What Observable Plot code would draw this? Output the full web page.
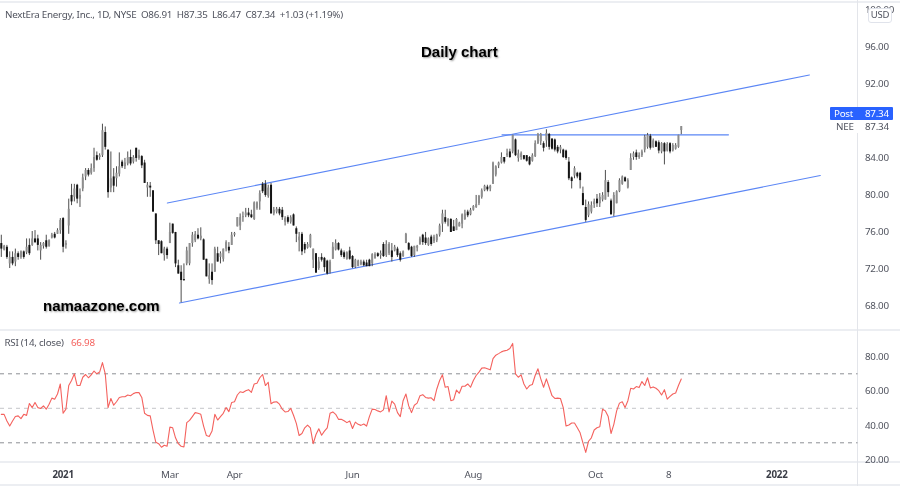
<!DOCTYPE html>
<html><head><meta charset="utf-8">
<script src="https://cdn.jsdelivr.net/npm/d3@7"></script>
<script src="https://cdn.jsdelivr.net/npm/@observablehq/plot@0.6"></script>
<style>
html,body{margin:0;padding:0;background:#fff;width:900px;height:486px;overflow:hidden}
#wrap{position:relative;width:900px;height:486px;font-family:"Noto Sans",sans-serif;color:#50535e;filter:blur(0.35px);letter-spacing:-0.25px}
#wrap svg{display:block;position:absolute;left:0}
.t{position:absolute;white-space:pre;line-height:1}
.sep{position:absolute;background:#eceef2}
</style></head><body>
<div id="wrap"></div>
<script>
const opens=[74.7,74.0,74.3,72.5,73.2,72.7,73.6,73.2,73.8,73.7,
74.5,74.5,75.2,75.2,73.9,74.4,75.0,74.4,75.3,75.7,
75.7,76.1,77.4,74.5,76.6,79.9,79.7,81.0,79.5,80.6,
81.9,82.6,82.3,82.8,84.2,84.0,84.2,86.7,84.8,80.7,
81.9,81.7,82.2,83.5,83.0,83.3,84.0,83.5,85.0,83.9,
84.1,83.4,80.7,80.9,80.4,77.9,75.0,74.9,73.4,74.1,
74.7,76.8,75.9,72.3,71.6,70.8,72.5,72.5,74.7,75.0,
75.6,75.2,75.1,73.0,70.8,71.6,71.6,73.6,73.2,73.0,
74.1,74.3,74.5,75.6,76.5,76.6,77.5,77.7,78.0,77.8,
77.3,78.5,79.2,81.1,81.1,79.8,81.0,77.9,78.1,78.4,
78.3,77.0,77.5,77.0,77.8,76.3,75.0,75.7,74.6,74.2,
74.3,72.9,73.6,72.0,73.2,73.1,72.8,71.6,73.0,74.0,
74.7,73.9,73.7,73.0,73.9,73.3,72.1,72.2,72.4,72.7,
72.6,72.9,72.5,73.1,73.6,73.4,74.6,73.4,73.6,73.9,
73.9,74.1,73.6,73.3,74.7,74.7,74.3,73.4,74.2,74.6,
75.6,75.3,74.5,75.4,74.9,75.0,75.6,76.8,77.5,76.6,
77.3,76.5,76.1,76.5,76.8,77.3,78.1,77.8,78.3,78.6,
79.0,79.7,80.4,80.8,80.6,81.1,82.1,83.1,83.4,84.0,
84.2,84.6,84.6,85.9,83.9,84.0,84.2,84.2,84.0,83.6,
84.1,85.5,85.7,85.5,85.8,86.5,86.0,85.9,85.1,84.8,
84.8,84.7,83.5,81.8,82.0,82.3,82.3,80.1,78.6,77.7,
78.1,78.9,79.5,79.0,79.4,79.4,81.3,79.3,77.9,79.0,
80.3,81.1,81.8,80.7,82.6,84.0,84.5,84.0,84.2,84.8,
85.1,86.3,85.1,85.7,85.6,84.6,85.5,84.7,85.5,84.7,
84.9,85.1,86.91];
const highs=[75.6,74.5,74.5,73.8,73.8,74.1,73.8,73.9,73.9,75.2,
75.2,76.0,76.1,75.6,74.8,74.8,75.6,75.1,75.8,75.9,
76.3,77.4,77.5,75.0,79.5,81.1,81.1,81.1,80.6,82.2,
82.8,82.8,83.3,85.0,84.6,84.4,87.6,87.3,84.8,84.6,
82.8,83.0,84.5,83.7,83.9,84.6,84.8,84.2,85.0,84.8,
84.2,83.7,81.3,81.3,80.4,77.9,75.0,75.0,74.3,74.3,
76.9,76.8,75.9,72.9,72.3,72.5,74.3,74.7,75.9,76.0,
76.3,76.4,75.2,73.0,72.5,72.5,74.3,74.3,73.8,74.1,
75.0,74.8,75.9,75.9,77.5,77.9,78.1,78.5,78.5,78.3,
79.2,79.2,80.4,81.3,81.5,81.0,81.2,78.6,78.6,78.6,
78.6,77.6,77.7,77.7,77.9,76.5,75.9,75.9,74.8,74.8,
75.7,74.1,73.6,73.2,73.6,73.2,72.9,72.9,74.8,75.1,
74.8,74.1,73.9,73.8,74.3,73.4,73.0,72.9,72.9,72.9,
72.9,73.0,73.6,73.7,73.7,73.9,74.8,75.0,74.8,74.7,
74.5,74.3,73.8,73.9,75.8,74.8,74.4,74.4,74.5,75.4,
75.7,75.9,75.3,75.6,75.6,75.7,76.8,78.3,78.3,77.4,
77.4,77.2,77.4,77.0,77.9,78.3,78.3,78.5,78.8,79.9,
79.9,80.6,81.0,81.0,81.0,83.5,83.1,83.5,84.5,84.0,
84.9,84.9,86.4,86.0,84.8,84.6,84.2,84.2,84.1,84.4,
85.8,86.6,86.6,85.7,87.0,86.6,86.0,86.0,85.3,85.3,
84.9,84.8,84.0,81.9,83.0,82.4,82.4,80.8,79.4,79.2,
79.2,79.5,80.0,80.1,80.2,82.6,81.5,79.5,80.2,80.4,
81.7,82.0,81.9,81.7,84.4,84.6,84.8,84.5,84.8,86.4,
86.6,86.5,86.0,85.8,85.8,85.6,85.6,85.6,85.6,85.5,
85.5,86.4,87.35];
const lows=[73.2,73.9,73.0,72.0,72.3,72.2,72.9,73.0,73.0,73.5,
73.4,74.4,74.7,73.9,72.9,74.1,74.1,74.3,75.2,75.2,
75.7,75.7,73.7,74.1,75.7,78.8,79.2,79.0,78.6,80.3,
81.5,81.9,82.1,82.4,83.6,83.7,84.0,84.8,79.6,80.2,
80.2,80.8,81.9,82.8,82.7,83.1,83.1,83.3,83.5,83.7,
82.8,81.2,79.7,79.7,78.1,74.6,73.4,73.6,72.8,73.0,
74.7,75.7,72.1,71.4,68.3,70.6,72.3,72.3,74.3,74.8,
75.1,75.0,72.9,71.1,70.3,70.2,71.6,72.7,72.5,72.7,
73.8,73.6,74.5,75.4,76.5,76.1,77.0,77.5,77.5,77.4,
77.2,78.3,78.3,80.1,79.7,79.6,77.9,77.7,77.9,77.7,
77.2,76.6,76.8,76.8,76.6,74.8,73.8,73.4,73.6,74.1,
74.2,72.0,71.5,71.8,72.7,71.6,71.3,71.4,73.0,73.9,
73.9,73.2,73.0,72.9,72.9,72.0,72.0,72.2,72.3,72.2,
72.2,72.2,72.2,73.0,73.2,73.0,73.2,73.2,73.4,72.7,
73.8,73.2,72.7,73.2,74.7,73.9,73.2,73.2,73.8,74.5,
74.5,74.5,74.4,74.4,74.7,74.8,75.4,75.9,76.8,76.5,
75.9,76.0,76.1,76.5,76.3,77.2,77.5,77.7,78.2,78.5,
78.8,79.5,80.3,80.3,80.3,81.1,81.9,82.8,83.3,83.3,
84.0,83.9,84.4,84.1,83.5,83.7,83.7,83.5,83.1,83.5,
84.0,85.4,85.3,84.6,85.1,84.8,84.8,84.6,84.4,84.4,
83.9,83.7,81.5,80.6,81.7,81.7,80.6,78.8,77.0,77.5,
77.9,78.5,78.6,78.6,79.2,79.4,79.7,77.8,77.6,79.0,
80.2,81.0,81.3,80.6,82.6,83.7,83.7,83.8,84.0,84.5,
84.9,84.8,85.0,85.1,84.4,84.4,83.2,84.6,84.4,84.6,
84.8,85.0,86.47];
const closes=[74.1,74.4,73.2,73.2,72.5,73.6,73.2,73.8,73.2,74.3,
73.6,75.2,74.8,74.5,74.5,74.7,74.3,75.0,75.6,75.3,
76.1,77.2,74.3,74.7,78.4,79.2,80.6,79.5,79.9,81.8,
82.6,82.1,82.8,84.0,83.7,84.2,86.9,85.1,80.2,81.7,
80.9,82.3,83.0,83.0,83.4,84.0,83.3,84.0,83.9,84.2,
83.1,81.2,81.0,80.7,78.1,75.0,74.6,73.6,74.1,73.4,
75.9,75.8,72.5,71.4,70.7,70.7,73.9,74.7,75.6,75.7,
75.2,75.5,72.9,71.1,71.2,70.7,74.1,72.7,73.6,74.1,
74.8,73.9,75.6,75.8,77.5,77.5,77.6,78.0,77.7,77.5,
79.1,79.1,80.1,80.3,79.9,80.7,77.9,78.3,78.4,77.9,
77.5,77.4,77.0,77.5,76.6,75.7,75.4,73.8,74.0,74.6,
75.6,74.1,71.5,72.7,72.9,72.1,71.4,72.7,74.3,74.7,
74.0,73.4,73.2,73.7,73.0,72.1,72.9,72.8,72.7,72.3,
72.2,72.2,73.5,73.5,73.3,73.6,73.3,74.6,74.6,73.2,
74.3,73.4,72.9,73.8,75.7,74.0,73.3,74.4,74.4,75.2,
74.8,74.7,75.2,74.6,75.4,75.6,76.6,77.9,77.0,77.3,
75.9,76.0,77.3,76.9,77.8,77.9,77.7,78.3,78.7,78.9,
79.8,80.4,80.9,80.5,80.9,83.4,83.0,83.4,84.0,83.5,
84.4,84.0,86.4,84.2,84.4,84.4,83.8,83.6,83.2,84.2,
85.5,86.5,86.5,85.0,86.6,85.1,84.9,84.8,84.6,85.1,
84.0,83.9,81.7,81.4,82.8,81.9,81.5,78.8,77.2,78.9,
78.8,79.2,79.0,79.7,79.9,81.5,80.2,77.8,79.9,80.3,
81.5,81.9,81.4,81.5,83.9,84.4,84.0,84.2,84.6,86.2,
86.4,85.0,85.8,85.1,84.7,85.5,84.6,85.4,84.6,85.3,
85.3,86.4,87.34];
const rsi=[46.5,46.5,42.6,39.7,42.6,45.2,45.6,44.0,46.5,45.9,
52.8,50.4,53.4,50.4,49.9,51.4,49.5,52.4,55.9,55.3,
58.3,64.1,47.1,49.5,63.2,66.1,70.0,63.2,63.2,68.0,
69.6,67.7,69.4,71.6,70.0,71.0,76.5,70.0,50.4,55.7,
51.8,53.8,56.3,56.7,56.7,57.7,57.3,58.5,59.1,59.1,
56.3,47.1,45.9,45.6,37.4,30.3,29.5,27.4,28.6,28.0,
39.1,38.7,32.9,29.5,28.0,27.6,41.7,43.0,45.2,47.5,
47.1,46.5,39.7,34.2,33.6,36.8,46.5,43.2,45.2,47.1,
50.4,48.1,53.4,53.8,57.7,59.6,59.2,60.2,60.8,59.2,
64.1,64.5,67.7,69.6,63.2,65.1,52.6,53.6,53.8,52.4,
49.5,47.9,48.1,50.0,46.0,41.3,34.2,35.4,38.7,40.3,
38.7,29.5,34.8,38.1,34.4,36.8,38.7,47.1,47.9,46.5,
43.6,43.6,42.8,41.7,42.6,38.3,42.0,40.7,40.1,40.9,
39.7,45.2,49.5,49.3,48.5,47.9,49.1,57.3,47.9,54.2,
52.4,47.5,45.2,54.4,58.3,51.4,47.5,51.8,53.0,57.3,
57.9,56.3,55.9,56.1,54.4,61.2,66.1,69.4,62.2,62.6,
54.4,55.0,60.6,58.7,62.8,62.8,64.1,62.2,66.1,69.0,
71.0,73.3,73.5,72.9,72.3,78.8,80.8,81.7,82.7,83.3,
83.7,84.7,87.6,70.0,68.0,69.4,64.1,61.2,63.2,63.8,
69.0,72.9,67.1,62.2,67.1,62.2,57.3,55.7,55.9,55.7,
50.4,39.7,40.3,41.5,41.5,38.7,35.8,29.9,24.4,30.9,
32.9,37.4,38.7,39.3,49.5,48.5,45.2,35.4,40.7,48.5,
53.0,53.8,50.4,54.4,61.6,61.2,62.6,62.0,65.5,63.2,
67.7,61.8,62.4,61.6,60.2,57.7,60.8,55.3,56.9,58.3,
58.9,63.2,66.98];
const priceTicks=[68,72,76,80,84,92,96,100];
const rsiTicks=[20,40,60,80];
const rsiBands=[70,30];
const rsiMid=[50];
const yearIdx=[22,276], yearLabels=["2021","2022"];
const monthIdx=[60,83,125,168,211.5,237.5], monthLabels=["Mar","Apr","Jun","Aug","Oct","8"];
// trend lines: [bar index, price]
const channelUpper=[[59.1,79.08],[287.6,92.92]];
const channelLower=[[63.4,68.27],[291.5,82.05]];
const resistance=[[178.2,86.45],[258.8,86.45]];

const bars=opens.map((o,i)=>({i,o,h:highs[i],l:lows[i],c:closes[i]}));
const up=bars.filter(d=>d.c>=d.o), down=bars.filter(d=>d.c<d.o);
const rsiPts=rsi.map((v,i)=>({i,v}));
const xDomain=[-0.285,304.9];
const font='"Noto Sans",sans-serif';
const axisColor="#50535e";
const lineBlue="#5b86f5";
const svgStyle={fontFamily:font,fontSize:"9.8px",letterSpacing:"-0.25px",color:axisColor,background:"transparent",overflow:"visible"};

const price=Plot.plot({
  width:900,height:329,marginLeft:0,marginRight:42.5,marginTop:0,marginBottom:0,
  style:svgStyle,
  x:{type:"linear",domain:xDomain,axis:null},
  y:{domain:[65.41,100.97]},
  marks:[
    Plot.line(channelUpper,{x:"0",y:"1",stroke:lineBlue,strokeWidth:1.1}),
    Plot.line(channelLower,{x:"0",y:"1",stroke:lineBlue,strokeWidth:1.1}),
    Plot.line(resistance,{x:"0",y:"1",stroke:lineBlue,strokeWidth:1.1}),
    Plot.ruleX(bars,{x:"i",y1:"l",y2:"h",stroke:"#3a3a3a",strokeWidth:0.9}),
    Plot.ruleX(up,{x:"i",y1:"o",y2:"c",stroke:"#8e8e8e",strokeWidth:2,strokeLinecap:"butt"}),
    Plot.ruleX(down,{x:"i",y1:"o",y2:"c",stroke:"#141414",strokeWidth:2,strokeLinecap:"butt"}),
    Plot.axisY({anchor:"right",ticks:priceTicks,tickFormat:d=>d.toFixed(2),tickSize:0,tickPadding:7,label:null})
  ]
});
const osc=Plot.plot({
  width:900,height:157,marginLeft:0,marginRight:42.5,marginTop:0,marginBottom:24,
  style:svgStyle,
  x:{type:"linear",domain:xDomain},
  y:{domain:[18.58,95.68]},
  marks:[
    Plot.ruleY(rsiBands,{stroke:"#808389",strokeDasharray:"4,4",strokeWidth:0.9}),
    Plot.ruleY(rsiMid,{stroke:"#bdbfc4",strokeDasharray:"4,4",strokeWidth:0.9}),
    Plot.line(rsiPts,{x:"i",y:"v",stroke:"#f4625e",strokeWidth:1.1}),
    Plot.axisY({anchor:"right",ticks:rsiTicks,tickFormat:d=>d.toFixed(2),tickSize:0,tickPadding:7,label:null}),
    Plot.axisX({anchor:"bottom",ticks:yearIdx,tickFormat:d=>yearLabels[yearIdx.indexOf(d)],tickSize:0,tickPadding:9,label:null,fontWeight:"bold",fill:"#3a3d46"}),
    Plot.axisX({anchor:"bottom",ticks:monthIdx,tickFormat:d=>monthLabels[monthIdx.indexOf(d)],tickSize:0,tickPadding:9,label:null})
  ]
});
const wrap=document.getElementById("wrap");
function sep(l,t,w,h,c){const e=document.createElement("div");e.className="sep";e.style.cssText=`left:${l}px;top:${t}px;width:${w}px;height:${h}px`+(c?`;background:${c}`:"");wrap.appendChild(e);return e;}
function txt(s,css){const e=document.createElement("div");e.className="t";e.textContent=s;e.style.cssText=css;wrap.appendChild(e);return e;}
sep(0,1,900,2);sep(0,329,900,2);sep(0,461,900,1.5);sep(0,483.5,900,2);
sep(857,0,1,486,"#e3e5ea");
price.style.top="0px";osc.style.top="329px";
wrap.append(price,osc);
// labels on the price scale
sep(832,120,61,13,"#fff");
sep(830,107,63,12.5,"#2962ff").style.borderRadius="1px";
txt("Post","left:834px;top:108.5px;font-size:9.8px;color:#fff");
txt("87.34","left:865px;top:108.5px;font-size:9.8px;color:#fff");
txt("NEE","left:836px;top:121.5px;font-size:9.8px;color:#50535e");
txt("87.34","left:865px;top:121.5px;font-size:9.8px;color:#50535e");
txt("USD","left:868px;top:8px;width:22px;height:12px;padding-top:1px;text-align:center;font-size:9.5px;background:#fff;border:1px solid #e0e3eb;border-radius:3px;color:#50535e");
// header and annotations
txt("NextEra Energy, Inc., 1D, NYSE  O86.91  H87.35  L86.47  C87.34  +1.03 (+1.19%)","left:5px;top:9.5px;font-size:9.8px;color:#50535e");
txt("RSI (14, close)","left:4.5px;top:337.5px;font-size:9.8px;color:#50535e");
txt("66.98","left:71px;top:337.5px;font-size:9.8px;color:#f4625e");
txt("Daily chart","left:421px;top:44px;letter-spacing:0;font-family:'Liberation Sans',sans-serif;font-weight:bold;font-size:15px;color:#000;text-shadow:1px 1px 2px #999");
txt("namaazone.com","left:43px;top:298px;letter-spacing:0;font-family:'Liberation Sans',sans-serif;font-weight:bold;font-size:15px;color:#000;text-shadow:1px 1px 2px #999");
</script>
</body></html>
